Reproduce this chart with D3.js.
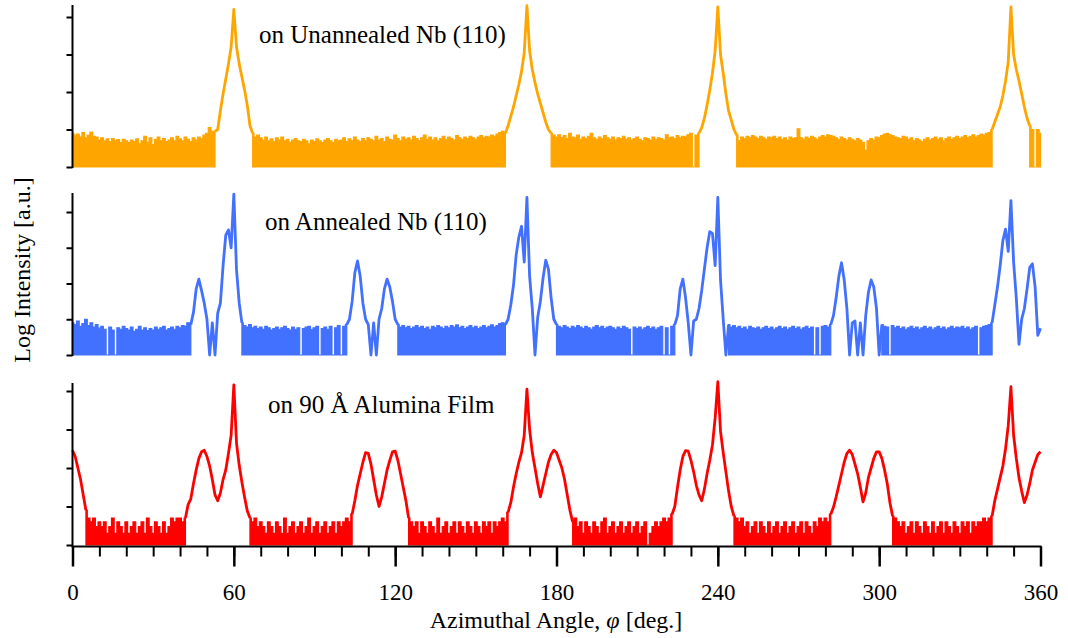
<!DOCTYPE html>
<html><head><meta charset="utf-8">
<script src="https://cdn.jsdelivr.net/npm/d3@7"></script>
<style>
body{margin:0;background:#fff}
svg{display:block}
text{font-family:"Liberation Serif","Times New Roman",serif;fill:#000}
</style>
</head><body>
<svg id="chart" width="1068" height="638"></svg>
<script>
// ---- DATA (log intensity, decades above panel baseline, sampled every 1 deg from 0 to 360) ----
const angleStart = 0, angleStep = 1;

const unannealedValues = [
0.9,0.85,0.88,0.8,0.92,0.78,0.85,0.93,0.82,0.8,
0.72,0.78,0.7,0.75,0.68,0.76,0.7,0.73,0.66,0.74,
0.7,0.65,0.72,0.68,0.75,0.62,0.7,0.82,0.66,0.78,
0.6,0.74,0.8,0.7,0.76,0.68,0.72,0.78,0.7,0.82,
0.75,0.7,0.8,0.74,0.68,0.78,0.72,0.8,0.76,0.85,
0.9,1.05,0.95,0.95,1.0,1.5,1.95,2.35,2.75,3.2,
4.2,3.2,2.75,2.4,2.05,1.65,1.1,0.9,0.8,0.85,
0.78,0.72,0.8,0.7,0.75,0.68,0.78,0.72,0.8,0.7,
0.74,0.66,0.72,0.76,0.7,0.68,0.74,0.7,0.62,0.72,
0.68,0.75,0.7,0.65,0.72,0.76,0.7,0.66,0.74,0.7,
0.72,0.78,0.68,0.75,0.7,0.8,0.72,0.68,0.76,0.7,
0.78,0.74,0.7,0.82,0.72,0.76,0.68,0.8,0.74,0.72,
0.85,0.76,0.7,0.8,0.74,0.78,0.72,0.82,0.76,0.7,
0.78,0.85,0.74,0.8,0.72,0.78,0.7,0.76,0.82,0.74,
0.8,0.76,0.72,0.84,0.78,0.74,0.8,0.76,0.82,0.78,
0.74,0.8,0.84,0.78,0.82,0.8,0.85,0.82,0.88,0.92,
0.95,0.9,1.1,1.35,1.6,1.9,2.2,2.55,3.05,4.3,
3.1,2.6,2.25,1.95,1.7,1.45,1.2,1.0,0.9,0.85,
0.8,0.86,0.78,0.84,0.76,0.9,0.8,0.78,0.85,0.74,
0.8,0.76,0.82,0.9,0.78,0.74,0.8,0.76,0.84,0.78,
0.74,0.8,0.72,0.78,0.76,0.82,0.74,0.78,0.72,0.76,
0.8,0.74,0.7,0.78,0.76,0.72,0.8,0.74,0.78,0.76,
0.72,0.86,0.78,0.8,0.76,0.84,0.78,0.82,0.8,0.86,
0.9,0.0,0.85,0.9,1.05,1.3,1.65,2.05,2.5,3.1,
4.27,3.0,2.5,1.95,1.5,1.25,1.0,0.85,0.7,0.8,
0.76,0.82,0.78,0.84,0.8,0.76,0.82,0.78,0.74,0.8,
0.78,0.82,0.76,0.8,0.74,0.78,0.72,0.8,0.76,0.78,
1.02,0.78,0.74,0.8,0.76,0.82,0.78,0.74,0.8,0.84,
0.8,0.86,0.84,0.82,0.78,0.74,0.8,0.76,0.72,0.78,
0.74,0.7,0.76,0.72,0.66,0.45,0.7,0.76,0.72,0.8,
0.78,0.84,0.88,0.9,0.86,0.84,0.8,0.78,0.76,0.82,
0.8,0.74,0.78,0.7,0.76,0.72,0.68,0.74,0.78,0.72,
0.76,0.8,0.74,0.78,0.7,0.76,0.8,0.74,0.78,0.82,
0.76,0.8,0.84,0.78,0.82,0.86,0.8,0.84,0.88,0.85,
0.9,0.92,1.0,1.2,1.4,1.6,1.9,2.3,2.8,4.27,
3.0,2.6,2.3,1.95,1.6,1.3,1.1,1.0,0.0,1.0,0.9
];
const unannealedFloors = [[0,53],[67,161],[178,233],[247,342],[356,360]];

const annealedValues = [
0.9,0.85,0.95,0.8,0.88,1.0,0.82,0.9,0.78,0.85,
0.75,0.8,0.72,0.0,0.78,0.7,0.0,0.76,0.72,0.8,
0.74,0.7,0.78,0.66,0.72,0.8,0.7,0.76,0.68,0.74,
0.7,0.78,0.72,0.76,0.8,0.7,0.74,0.78,0.72,0.8,
0.76,0.82,0.8,0.9,0.85,1.2,1.85,2.12,1.8,1.45,
1.0,0.0,0.9,0.0,1.17,1.45,2.5,3.35,3.5,3.0,
4.5,2.38,1.45,0.9,0.82,0.78,0.85,0.76,0.8,0.74,
0.78,0.72,0.8,0.76,0.7,0.74,0.78,0.72,0.76,0.8,
0.74,0.7,0.78,0.72,0.76,0.0,0.74,0.78,0.8,0.72,
0.76,0.8,0.0,0.74,0.78,0.72,0.8,0.0,0.76,0.82,
0.0,0.8,0.85,1.0,1.5,2.3,2.63,2.2,1.45,1.0,
0.85,0.0,0.9,0.0,1.0,1.3,1.85,2.12,1.9,1.5,
1.0,0.85,0.78,0.82,0.76,0.8,0.74,0.78,0.82,0.76,
0.8,0.74,0.78,0.72,0.8,0.76,0.82,0.78,0.74,0.8,
0.76,0.82,0.78,0.84,0.76,0.8,0.74,0.78,0.82,0.76,
0.8,0.74,0.78,0.82,0.76,0.8,0.84,0.78,0.82,0.88,
0.9,0.85,1.0,1.4,1.95,2.8,3.3,3.6,2.6,4.41,
2.2,1.3,0.0,1.05,1.5,2.15,2.65,2.4,1.6,1.0,
0.85,0.8,0.76,0.82,0.78,0.74,0.8,0.76,0.82,0.78,
0.74,0.8,0.76,0.72,0.78,0.82,0.76,0.8,0.74,0.78,
0.8,0.76,0.72,0.78,0.74,0.8,0.76,0.72,0.0,0.78,
0.74,0.78,0.72,0.76,0.8,0.74,0.78,0.72,0.76,0.8,
0.0,0.76,0.0,0.8,0.85,1.1,1.85,2.12,1.6,0.9,
0.0,0.95,1.0,1.3,1.8,2.4,3.0,3.45,3.4,2.5,
4.41,2.1,1.0,0.0,0.85,0.78,0.82,0.76,0.8,0.74,
0.78,0.72,0.8,0.76,0.74,0.78,0.72,0.76,0.8,0.74,
0.78,0.72,0.76,0.8,0.74,0.78,0.72,0.76,0.8,0.74,
0.78,0.72,0.76,0.8,0.74,0.78,0.0,0.76,0.0,0.8,
0.82,0.78,0.85,1.1,1.6,2.2,2.58,2.1,1.3,0.0,
0.9,0.95,0.0,0.9,0.0,1.1,1.75,2.1,1.9,1.3,
0.0,0.85,0.8,0.78,0.0,0.82,0.76,0.8,0.74,0.78,
0.72,0.76,0.8,0.74,0.78,0.72,0.76,0.8,0.74,0.78,
0.72,0.76,0.8,0.74,0.78,0.72,0.76,0.8,0.74,0.78,
0.76,0.8,0.74,0.78,0.72,0.76,0.8,0.0,0.76,0.8,
0.82,0.85,0.9,1.4,1.9,2.5,3.2,3.52,2.9,4.32,
2.6,1.6,0.3,1.0,1.3,1.85,2.45,2.55,1.9,0.55,0.75
];
const annealedFloors = [[0,44],[63,102],[121,161],[180,224],[244,282],[301,342]];

const aluminaValues = [
2.46,2.3,2.0,1.7,1.3,0.9,0.7,0.6,0.7,0.48,
0.6,0.48,0.6,0.3,0.48,0.7,0.3,0.6,0.48,0.3,
0.6,0.3,0.48,0.6,0.3,0.48,0.6,0.3,0.7,0.48,
0.3,0.6,0.48,0.3,0.6,0.3,0.48,0.7,0.6,0.7,
0.7,0.6,0.7,1.05,1.2,1.6,1.95,2.25,2.42,2.46,
2.3,2.05,1.7,1.3,1.15,1.35,1.7,1.95,2.38,2.85,
4.16,2.64,2.07,1.63,1.24,0.89,0.7,0.6,0.7,0.48,
0.6,0.48,0.3,0.6,0.48,0.3,0.6,0.48,0.3,0.7,
0.3,0.48,0.6,0.3,0.48,0.6,0.3,0.48,0.7,0.3,
0.48,0.6,0.3,0.48,0.6,0.3,0.48,0.6,0.3,0.6,
0.48,0.6,0.7,0.6,0.8,1.15,1.55,1.85,2.15,2.4,
2.38,2.1,1.7,1.3,1.0,1.25,1.6,1.95,2.2,2.42,
2.44,2.2,1.85,1.5,1.15,0.7,0.6,0.48,0.6,0.3,
0.6,0.48,0.3,0.6,0.48,0.3,0.7,0.3,0.48,0.6,
0.3,0.48,0.6,0.3,0.6,0.48,0.3,0.6,0.48,0.3,
0.6,0.48,0.3,0.6,0.48,0.6,0.3,0.6,0.48,0.6,
0.7,0.6,0.85,1.1,1.5,1.85,2.15,2.4,2.85,4.05,
3.0,2.4,2.0,1.6,1.25,1.55,1.85,2.15,2.35,2.46,
2.4,2.2,2.0,1.7,1.3,0.9,0.6,0.7,0.48,0.6,
0.3,0.6,0.48,0.3,0.6,0.48,0.3,0.6,0.7,0.3,
0.48,0.6,0.3,0.48,0.6,0.3,0.48,0.6,0.3,0.48,
0.6,0.3,0.48,0.6,0.0,0.3,0.48,0.6,0.48,0.6,
0.7,0.6,0.7,0.8,1.0,1.5,1.95,2.3,2.45,2.44,
2.2,1.9,1.55,1.3,1.15,1.45,1.85,2.2,2.6,3.3,
4.24,2.95,2.4,1.9,1.4,1.0,0.75,0.7,0.6,0.7,
0.48,0.6,0.3,0.48,0.6,0.3,0.6,0.48,0.3,0.6,
0.3,0.48,0.6,0.3,0.48,0.6,0.3,0.48,0.6,0.3,
0.48,0.6,0.3,0.6,0.48,0.3,0.6,0.48,0.7,0.6,
0.7,0.6,0.8,0.98,1.25,1.55,1.85,2.15,2.38,2.46,
2.35,2.1,1.85,1.5,1.12,1.35,1.75,2.0,2.25,2.42,
2.42,2.25,1.95,1.6,1.1,0.75,0.7,0.6,0.48,0.6,
0.3,0.48,0.6,0.3,0.6,0.48,0.3,0.6,0.48,0.3,
0.6,0.3,0.48,0.6,0.3,0.6,0.48,0.3,0.6,0.48,
0.3,0.6,0.48,0.6,0.3,0.6,0.48,0.6,0.6,0.7,
0.6,0.7,0.75,1.15,1.45,1.75,2.05,2.5,3.1,4.11,
2.85,2.25,1.75,1.4,1.1,1.3,1.6,1.95,2.15,2.35,2.42
];
const aluminaFloors = [[5,42],[66,104],[125,162],[186,223],[246,282],[305,342]];

const seriesNames = ["on Unannealed Nb (110)", "on Annealed Nb (110)", "on 90 Å Alumina Film"];
const seriesColors = ["#FFA500", "#4270FF", "#FF0000"];
const yTickValues = [0, 1, 2, 3, 4];
const xMajorTicks = [0, 60, 120, 180, 240, 300, 360];
const xTickLabels = ["0", "60", "120", "180", "240", "300", "360"];
const xMinorStep = 10;
const xTitle = ["Azimuthal Angle, ", "φ", " [deg.]"];
const yTitle = "Log Intensity [a.u.]";

// ---- LAYOUT ----
const svg = d3.select("#chart");
const x = d3.scaleLinear().domain([0, 360]).range([72.5, 1040.5]);
const xAxisY = 546.5;

const panelLayout = [
  {zero: 167, four: 17, top: 5, labelX: 259, labelY: 43},
  {zero: 355, four: 212, top: 193, labelX: 265, labelY: 230},
  {zero: 545, four: 391, top: 383, labelX: 268, labelY: 413}
];
const panelValues = [unannealedValues, annealedValues, aluminaValues];
const panelFloors = [unannealedFloors, annealedFloors, aluminaFloors];

panelValues.forEach((vals, p) => {
  const L = panelLayout[p];
  const color = seriesColors[p];
  const y = d3.scaleLinear().domain([0, 4]).range([L.zero, L.four]);
  const pts = vals.map((v, i) => ({a: angleStart + i * angleStep, v}));
  const g = svg.append("g");

  // floor band (noise region) as stepped area
  const area = d3.area().x(d => x(d.a)).y0(y(0)).y1(d => y(d.v)).curve(d3.curveStep);
  const floors = panelFloors[p];
  floors.forEach(([a0, a1]) => {
    const seg = pts.filter(d => d.a >= a0 && d.a <= a1);
    g.append("path").attr("d", area(seg)).attr("fill", color)
      .attr("stroke", color).attr("stroke-width", 1.2).attr("stroke-linejoin", "miter");
  });

  // line segments between floor regions
  const breaks = [];
  let start = 0;
  floors.forEach(([a0, a1]) => {
    if (a0 > start) breaks.push([start, a0]);
    start = a1;
  });
  if (start < 360) breaks.push([start, 360]);
  const line = d3.line().x(d => x(d.a)).y(d => y(d.v));
  breaks.forEach(([a0, a1]) => {
    const seg = pts.filter(d => d.a >= a0 && d.a <= a1);
    g.append("path").attr("d", line(seg)).attr("fill", "none")
      .attr("stroke", color).attr("stroke-width", 2.8).attr("stroke-linejoin", "round");
  });

  // y axis
  const ax = svg.append("g").attr("transform", `translate(${x(0)},0)`)
    .call(d3.axisLeft(y).tickValues(yTickValues).tickSize(6).tickSizeOuter(0).tickFormat(""));
  ax.select(".domain").remove();
  ax.selectAll(".tick line").attr("stroke", "#000").attr("stroke-width", 2);
  svg.append("line").attr("x1", x(0)).attr("x2", x(0)).attr("y1", L.top).attr("y2", p === 2 ? xAxisY : L.zero + 1)
    .attr("stroke", "#000").attr("stroke-width", 2);

  // panel label
  svg.append("text").attr("x", L.labelX).attr("y", L.labelY).attr("font-size", 25).text(seriesNames[p]);
});

// x axis
const minor = svg.append("g").attr("transform", `translate(0,${xAxisY})`)
  .call(d3.axisBottom(x).tickValues(d3.range(0, 361, xMinorStep)).tickSize(10).tickSizeOuter(0).tickFormat(""));
minor.select(".domain").remove();
minor.selectAll(".tick line").attr("stroke", "#000").attr("stroke-width", 2);

const major = svg.append("g").attr("transform", `translate(0,${xAxisY})`)
  .call(d3.axisBottom(x).tickValues(xMajorTicks).tickSize(20).tickSizeOuter(0).tickPadding(17)
    .tickFormat((d, i) => xTickLabels[i]));
major.select(".domain").remove();
major.selectAll(".tick line").attr("stroke", "#000").attr("stroke-width", 2.5);
major.selectAll(".tick text").attr("font-size", 23).attr("font-family", '"Liberation Serif","Times New Roman",serif').attr("fill", "#000");

svg.append("line").attr("x1", x(0) - 1).attr("x2", x(360) + 1).attr("y1", xAxisY).attr("y2", xAxisY)
  .attr("stroke", "#000").attr("stroke-width", 2);

// titles
const xt = svg.append("text").attr("x", 556).attr("y", 628).attr("text-anchor", "middle").attr("font-size", 24);
xt.append("tspan").text(xTitle[0]);
xt.append("tspan").attr("font-style", "italic").text(xTitle[1]);
xt.append("tspan").text(xTitle[2]);

svg.append("text").attr("transform", "translate(30,270) rotate(-90)").attr("text-anchor", "middle")
  .attr("font-size", 24).text(yTitle);
</script>
</body></html>
